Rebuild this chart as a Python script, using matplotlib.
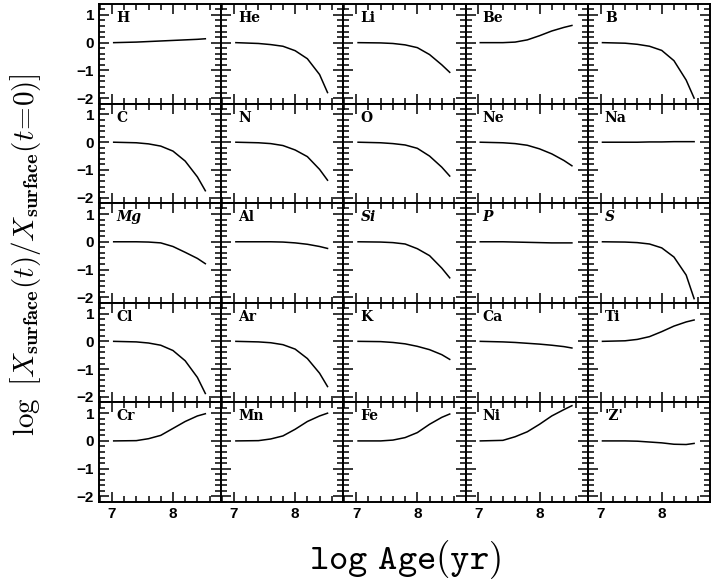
import matplotlib
matplotlib.use("Agg")
import matplotlib.pyplot as plt
from matplotlib.ticker import MultipleLocator

plt.rcParams['mathtext.fontset'] = 'cm'

log_age = [7.03, 7.4, 7.6, 7.8, 8.0, 8.2, 8.4, 8.53]

elements = ['H', 'He', 'Li', 'Be', 'B',
            'C', 'N', 'O', 'Ne', 'Na',
            'Mg', 'Al', 'Si', 'P', 'S',
            'Cl', 'Ar', 'K', 'Ca', 'Ti',
            'Cr', 'Mn', 'Fe', 'Ni', "'Z'"]

H  = [0.0, 0.02, 0.04, 0.06, 0.08, 0.10, 0.12, 0.14]
He = [0.0, -0.03, -0.07, -0.13, -0.29, -0.58, -1.15, -1.80]
Li = [0.0, -0.01, -0.03, -0.08, -0.18, -0.43, -0.80, -1.07]
Be = [0.0, 0.0, 0.02, 0.10, 0.25, 0.42, 0.55, 0.62]
B  = [0.0, -0.02, -0.06, -0.13, -0.28, -0.65, -1.35, -2.00]
C  = [0.0, -0.02, -0.06, -0.14, -0.32, -0.68, -1.25, -1.75]
N  = [0.0, -0.02, -0.05, -0.12, -0.28, -0.52, -0.98, -1.37]
O  = [0.0, -0.02, -0.05, -0.10, -0.22, -0.50, -0.90, -1.22]
Ne = [0.0, -0.02, -0.05, -0.11, -0.24, -0.42, -0.66, -0.85]
Na = [0.0, 0.0, 0.0, 0.01, 0.01, 0.02, 0.02, 0.02]
Mg = [0.0, 0.0, -0.01, -0.04, -0.17, -0.38, -0.60, -0.79]
Al = [0.0, 0.0, 0.0, -0.01, -0.04, -0.09, -0.17, -0.24]
Si = [0.0, -0.01, -0.03, -0.08, -0.25, -0.50, -0.95, -1.30]
P  = [0.0, 0.0, -0.01, -0.02, -0.03, -0.04, -0.04, -0.04]
S  = [0.0, -0.01, -0.03, -0.08, -0.22, -0.55, -1.20, -2.05]
Cl = [0.0, -0.02, -0.06, -0.14, -0.33, -0.70, -1.30, -1.88]
Ar = [0.0, -0.02, -0.05, -0.12, -0.28, -0.62, -1.15, -1.63]
K  = [0.0, -0.01, -0.04, -0.09, -0.18, -0.30, -0.48, -0.65]
Ca = [0.0, -0.02, -0.04, -0.07, -0.10, -0.14, -0.19, -0.24]
Ti = [0.0, 0.02, 0.07, 0.17, 0.35, 0.55, 0.70, 0.77]
Cr = [0.0, 0.01, 0.08, 0.20, 0.45, 0.70, 0.90, 0.98]
Mn = [0.0, 0.01, 0.07, 0.18, 0.42, 0.70, 0.90, 1.00]
Fe = [0.0, 0.0, 0.03, 0.12, 0.30, 0.60, 0.85, 0.97]
Ni = [0.0, 0.02, 0.15, 0.33, 0.60, 0.90, 1.13, 1.27]
Z  = [0.0, 0.0, -0.01, -0.04, -0.07, -0.12, -0.13, -0.09]

series = [H, He, Li, Be, B, C, N, O, Ne, Na, Mg, Al, Si, P, S,
          Cl, Ar, K, Ca, Ti, Cr, Mn, Fe, Ni, Z]
italic_labels = {'Mg', 'Si', 'P', 'S'}

xticks = [7, 8]
yticks = [-2, -1, 0, 1]

fig, axes = plt.subplots(5, 5, figsize=(7.15, 5.85), dpi=100,
                         sharex=True, sharey=True)
fig.subplots_adjust(left=0.1385, right=0.993, top=0.993, bottom=0.142,
                    wspace=0, hspace=0)

for i, ax in enumerate(axes.flat):
    ax.plot(log_age, series[i], color='black', lw=1.1)
    ax.set_xlim(6.79, 8.79)
    ax.set_ylim(-2.2, 1.39)
    ax.xaxis.set_major_locator(plt.FixedLocator(xticks))
    ax.yaxis.set_major_locator(plt.FixedLocator(yticks))
    ax.xaxis.set_minor_locator(MultipleLocator(0.2))
    ax.yaxis.set_minor_locator(MultipleLocator(0.2))
    ax.tick_params(which='both', direction='in', top=True, right=True,
                   width=1.1, labelsize=11)
    ax.tick_params(which='major', length=7.5)
    ax.tick_params(which='minor', length=4)
    for sp in ax.spines.values():
        sp.set_linewidth(1.4)
    name = elements[i]
    ax.text(0.14, 0.93, name, transform=ax.transAxes, ha='left', va='top',
            fontsize=10, fontweight='bold', family='DejaVu Serif',
            style='italic' if name in italic_labels else 'normal')

for ax in axes[-1, :]:
    ax.set_xticklabels(['7', '8'], fontweight='bold', fontsize=11,
                       family='Liberation Sans')
for ax in axes[:, 0]:
    ax.set_yticklabels(['\u22122', '\u22121', '0', '1'], fontweight='bold',
                       fontsize=11, family='Liberation Sans')

fig.text(0.036, 0.565,
         r'$\log\ \left[X_{\mathbf{surface}}(t)/X_{\mathbf{surface}}(t\!=\!0)\right]$',
         rotation=90, ha='center', va='center', fontsize=21)
fig.text(0.567, 0.028, r'$\mathtt{log\ Age(yr)}$', ha='center', va='baseline',
         fontsize=26.5)

fig.savefig('out.png', dpi=100)
